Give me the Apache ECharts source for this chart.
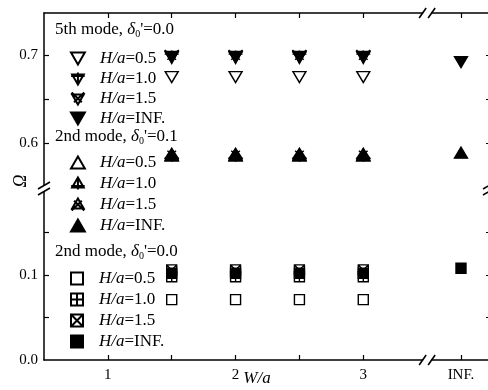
<!DOCTYPE html>
<html><head><meta charset="utf-8">
<script src="https://cdn.jsdelivr.net/npm/echarts@6/dist/echarts.min.js"></script>
<style>html,body{margin:0;padding:0;background:#fff}#c{width:488px;height:390px}</style>
</head><body><div id="c"></div>
<script>
// ---------- data ----------
const WA = [1.5, 2, 2.5, 3];          // W/a values
const INF_X = 3.765;                  // axis position standing for W/a = INF
const BREAK_X = 3.5;                  // where the x axis is broken
const xTickValues = [1, 1.5, 2, 2.5, 3, INF_X];
const xLabelValues = [1, 2, 3, INF_X];
const xLabelTexts = ['1', '2', '3', 'INF.'];
const upperTicks = [0.6, 0.65, 0.7];
const upperLabels = [0.6, 0.7];
const lowerTicks = [0.05, 0.1, 0.15];
const lowerLabels = [0, 0.1];

// 5th mode, delta0' = 0.0
const m5_h05 = [0.675, 0.675, 0.675, 0.675];
const m5_h10 = [0.698, 0.698, 0.698, 0.698];
const m5_h15 = [0.699, 0.699, 0.699, 0.699];
const m5_hinf = [0.698, 0.698, 0.698, 0.698, 0.692];   // last at INF
// 2nd mode, delta0' = 0.1
const m2a_h05 = [0.586, 0.586, 0.586, 0.586];
const m2a_h10 = [0.586, 0.586, 0.586, 0.586];
const m2a_h15 = [0.587, 0.587, 0.587, 0.587];
const m2a_hinf = [0.586, 0.586, 0.586, 0.586, 0.589];
// 2nd mode, delta0' = 0.0
const m2b_h05 = [0.071, 0.071, 0.071, 0.071];
const m2b_h10 = [0.098, 0.098, 0.098, 0.098];
const m2b_h15 = [0.106, 0.106, 0.106, 0.106];
const m2b_hinf = [0.102, 0.102, 0.102, 0.102, 0.108];

const labelOf = {
  a1: '{i|H/a}=0.5', a2: '{i|H/a}=1.0', a3: '{i|H/a}=1.5', a4: '{i|H/a}=INF.',
  b1: '{i|H/a}=0.5', b2: '{i|H/a}=1.0', b3: '{i|H/a}=1.5', b4: '{i|H/a}=INF.',
  c1: '{i|H/a}=0.5', c2: '{i|H/a}=1.0', c3: '{i|H/a}=1.5', c4: '{i|H/a}=INF.'
};

// ---------- symbols ----------
const TRI_D = 'M0,0 L12,0 L6,10.4 Z';
const TRI_D_PLUS = 'M0,0 L12,0 L6,10.4 Z M6,-2 L6,10.4 M-1,1.5 L13,1.5';
const TRI_D_X = 'M0,0 L12,0 L6,10.4 Z M-0.5,-2 L10,8 M12.5,-2 L2,8';
const TRI_U = 'M0,10.4 L12,10.4 L6,0 Z';
const TRI_U_PLUS = 'M0,10.4 L12,10.4 L6,0 Z M6,0 L6,12.4 M-1,8.9 L13,8.9';
const TRI_U_X = 'M0,10.4 L12,10.4 L6,0 Z M-0.5,12.4 L10,2.4 M12.5,12.4 L2,2.4';
const SQ = 'M0,0 L10,0 L10,10 L0,10 Z';
const SQ_PLUS = 'M0,0 L10,0 L10,10 L0,10 Z M5,0 L5,10 M0,5 L10,5';
const SQ_X = 'M0,0 L10,0 L10,10 L0,10 Z M0,0 L10,10 M10,0 L0,10';

const FONT = 'Liberation Serif';
const GL = 44, GR = -3, UP_TOP = 13, UP_BOT = 186, LO_TOP = 190, LO_BOT = 360;

function pts(ys) {
  const xs = ys.length > WA.length ? WA.concat([INF_X]) : WA;
  return ys.map((y, i) => [xs[i], y]);
}
function ser(name, ys, sym, size, filled, upper) {
  return {
    type: 'scatter', name: name,
    xAxisIndex: upper ? 0 : 1, yAxisIndex: upper ? 0 : 2,
    symbol: 'path://' + sym, symbolSize: size,
    itemStyle: { color: filled ? '#000' : 'rgba(255,255,255,0)', borderColor: '#000', borderWidth: 1.4, opacity: 1 },
    data: pts(ys), z: 5
  };
}

const series = [
  ser('a4', m5_hinf, TRI_D, [13, 11], true, true),
  ser('a1', m5_h05, TRI_D, [13, 11], false, true),
  ser('a2', m5_h10, TRI_D_PLUS, [14, 13], false, true),
  ser('a3', m5_h15, TRI_D_X, [14, 12], false, true),
  ser('b4', m2a_hinf, TRI_U, [13, 11], true, true),
  ser('b1', m2a_h05, TRI_U, [13, 11], false, true),
  ser('b2', m2a_h10, TRI_U_PLUS, [14, 13], false, true),
  ser('b3', m2a_h15, TRI_U_X, [14, 12], false, true),
  ser('c4', m2b_hinf, SQ, [10, 10], true, false),
  ser('c1', m2b_h05, SQ, [10, 10], false, false),
  ser('c2', m2b_h10, SQ_PLUS, [10, 10], false, false),
  ser('c3', m2b_h15, SQ_X, [10, 10], false, false)
];

const lineStyle = { color: '#000', width: 1.5 };
function xAxis(grid, top) {
  return {
    type: 'value', gridIndex: grid, position: top ? 'top' : 'bottom', min: 0.5, max: 4.0,
    axisLine: { show: true, onZero: false, lineStyle: lineStyle },
    axisTick: { show: true, inside: true, length: 5, customValues: xTickValues, lineStyle: { color: '#000', width: 1.2 } },
    axisLabel: top ? { show: false } : {
      show: true, customValues: xLabelValues, margin: 8, color: '#000', fontFamily: FONT, fontSize: 15,
      formatter: v => { const k = xLabelValues.findIndex(t => Math.abs(t - v) < 1e-6); return k >= 0 ? xLabelTexts[k] : ''; }
    },
    splitLine: { show: false }
  };
}
function yAxis(grid, right, min, max, ticks, labels) {
  return {
    type: 'value', gridIndex: grid, position: right ? 'right' : 'left', min: min, max: max,
    axisLine: { show: true, onZero: false, lineStyle: lineStyle },
    axisTick: { show: true, inside: true, length: 5, customValues: ticks, lineStyle: { color: '#000', width: 1.2 } },
    axisLabel: right ? { show: false } : {
      show: true, customValues: labels, margin: 6, color: '#000', fontFamily: FONT, fontSize: 15,
      formatter: v => v.toFixed(1)
    },
    splitLine: { show: false }
  };
}

const legendBase = {
  orient: 'vertical', left: 70, padding: 0, itemWidth: 14, itemHeight: 12, itemGap: 4,
  selectedMode: false,
  textStyle: { color: '#000', fontFamily: FONT, fontSize: 17, lineHeight: 16, padding: [0, 0, 0, 10],
    rich: { i: { fontStyle: 'italic', fontFamily: FONT, fontSize: 17 } } },
  formatter: n => labelOf[n]
};
const titleStyle = { color: '#000', fontFamily: FONT, fontSize: 17, fontWeight: 'normal',
  rich: { g: { fontStyle: 'italic', fontFamily: FONT, fontSize: 17 },
          s: { fontFamily: FONT, fontSize: 10, padding: [9, 0, 0, 0] } } };

const chart = echarts.init(document.getElementById('c'), null, { renderer: 'canvas' });
chart.setOption({
  animation: false,
  backgroundColor: '#fff',
  grid: [
    { left: GL, right: GR, top: UP_TOP, height: UP_BOT - UP_TOP, outerBoundsMode: 'none' },
    { left: GL, right: GR, top: LO_TOP, height: LO_BOT - LO_TOP, outerBoundsMode: 'none' }
  ],
  xAxis: [xAxis(0, true), xAxis(1, false)],
  yAxis: [
    yAxis(0, false, 0.551, 0.748, upperTicks, upperLabels),
    yAxis(0, true, 0.551, 0.748, upperTicks, upperLabels),
    yAxis(1, false, 0, 0.2, lowerTicks, lowerLabels),
    yAxis(1, true, 0, 0.2, lowerTicks, lowerLabels)
  ],
  title: [
    { text: "5th mode, {g|δ}{s|0}'=0.0", left: 55, top: 20, padding: 0, textStyle: titleStyle },
    { text: "2nd mode, {g|δ}{s|0}'=0.1", left: 55, top: 127, padding: 0, textStyle: titleStyle },
    { text: "2nd mode, {g|δ}{s|0}'=0.0", left: 55, top: 242, padding: 0, textStyle: titleStyle }
  ],
  legend: [
    Object.assign({}, legendBase, { top: 50, itemGap: 3, data: ['a1', 'a2', 'a3', 'a4'] }),
    Object.assign({}, legendBase, { top: 154, data: ['b1', 'b2', 'b3', 'b4'] }),
    Object.assign({}, legendBase, { top: 270, data: ['c1', 'c2', 'c3', 'c4'] })
  ],
  series: series
});

// axis-break decorations and axis names
const bx = chart.convertToPixel({ xAxisIndex: 1 }, BREAK_X);
const yMid = (UP_BOT + LO_TOP) / 2;
const rightX = 488 - GR;
const brk = { stroke: '#000', lineWidth: 1.6 };
function slash(x1, y1, x2, y2) { return { type: 'line', z: 100, shape: { x1, y1, x2, y2 }, style: brk }; }
const g = [];
[UP_TOP, LO_BOT].forEach(y => {
  g.push({ type: 'rect', z: 99, shape: { x: bx - 4, y: y - 2.5, width: 8, height: 5 }, style: { fill: '#fff' } });
  g.push(slash(bx - 8, y + 5, bx - 1, y - 5));
  g.push(slash(bx + 1, y + 5, bx + 8, y - 5));
});
[GL, rightX - 2].forEach(x => {
  g.push({ type: 'rect', z: 99, shape: { x: x - 2.5, y: yMid - 3, width: 5, height: 6 }, style: { fill: '#fff' } });
  g.push(slash(x - 6, yMid + 1, x + 6, yMid - 6));
  g.push(slash(x - 6, yMid + 7, x + 6, yMid));
});
g.push({ type: 'text', z: 100, x: 257, y: 379, style: { text: 'W/a', fill: '#000', font: 'italic 17px "Liberation Serif"', align: 'center', verticalAlign: 'middle' } });
g.push({ type: 'text', z: 100, x: 21, y: 181, rotation: Math.PI / 2, style: { text: 'Ω', fill: '#000', font: 'italic 18px "Liberation Serif"', align: 'center', verticalAlign: 'middle' } });
chart.setOption({ graphic: g });
</script>
</body></html>
